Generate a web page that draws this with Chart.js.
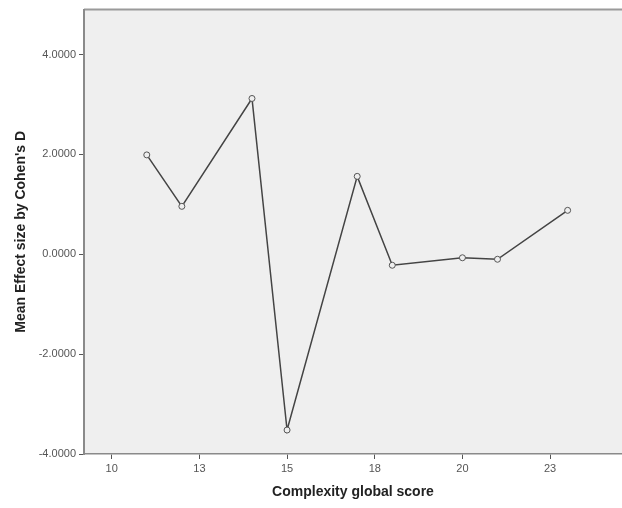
<!DOCTYPE html>
<html>
<head>
<meta charset="utf-8">
<script src="https://cdn.jsdelivr.net/npm/chart.js@4"></script>
<style>
  body{margin:0;background:#fff;}
  #wrap{width:622px;height:508px;}
</style>
</head>
<body>
<div id="wrap"><canvas id="chart"></canvas></div>
<script>
// values
const scores = [11, 12, 14, 15, 17, 18, 20, 21, 23];
const effectSizes = [1.99, 0.96, 3.12, -3.52, 1.56, -0.22, -0.07, -0.10, 0.88];
const xTickValues = [10, 12.5, 15, 17.5, 20, 22.5];
const yTickValues = [-4, -2, 0, 2, 4];

const plotBg = {
  id: "plotBg",
  beforeDraw(chart){
    const {ctx, chartArea:a} = chart;
    ctx.save();
    ctx.fillStyle = "#efefef";
    ctx.fillRect(a.left, a.top, a.right - a.left, a.bottom - a.top);
    ctx.strokeStyle = "#9a9a9a";
    ctx.lineWidth = 2;
    ctx.beginPath();
    ctx.moveTo(a.left, a.top);
    ctx.lineTo(a.right, a.top);
    ctx.stroke();
    ctx.restore();
  }
};

new Chart(document.getElementById("chart"), {
  type: "line",
  data: {
    datasets: [{
      data: scores.map((s, i) => ({x: s, y: effectSizes[i]})),
      borderColor: "#444",
      borderWidth: 1.5,
      pointRadius: 3,
      pointBorderWidth: 1,
      pointBorderColor: "#555",
      pointBackgroundColor: "#efefef",
      tension: 0
    }]
  },
  options: {
    responsive: true,
    maintainAspectRatio: false,
    animation: false,
    layout: { autoPadding: false, padding: { top: 9, right: 0, left: 0, bottom: 0 } },
    plugins: { legend: { display: false }, tooltip: { enabled: false } },
    scales: {
      x: {
        type: "linear",
        min: 9.21,
        max: 24.55,
        afterBuildTicks: axis => { axis.ticks = xTickValues.map(v => ({value: v})); },
        afterFit: axis => { axis.height = 54; axis.paddingLeft = 0; axis.paddingRight = 0; },
        grid: { drawOnChartArea: false, drawTicks: true, tickLength: 5, color: "#555" },
        border: { display: true, color: "#8a8a8a", width: 1.5 },
        ticks: {
          color: "#555",
          font: { family: "Liberation Sans", size: 11 },
          padding: 3,
          maxRotation: 0,
          callback: v => Math.round(v).toString()
        },
        title: {
          display: true,
          text: "Complexity global score",
          color: "#222",
          font: { family: "Liberation Sans", size: 14, weight: "bold" },
          padding: { top: 0, bottom: 7 }
        }
      },
      y: {
        min: -4,
        max: 4.9,
        afterBuildTicks: axis => { axis.ticks = yTickValues.map(v => ({value: v})); },
        afterFit: axis => { axis.width = 84; },
        grid: { drawOnChartArea: false, drawTicks: true, tickLength: 5, color: "#555" },
        border: { display: true, color: "#8a8a8a", width: 2 },
        ticks: {
          color: "#555",
          font: { family: "Liberation Sans", size: 11 },
          padding: 3,
          callback: v => v.toFixed(4)
        },
        title: {
          display: true,
          text: "Mean Effect size by Cohen's D",
          color: "#222",
          font: { family: "Liberation Sans", size: 14, weight: "bold" },
          padding: { top: 13, bottom: 0 }
        }
      }
    }
  },
  plugins: [plotBg]
});
</script>
</body>
</html>
